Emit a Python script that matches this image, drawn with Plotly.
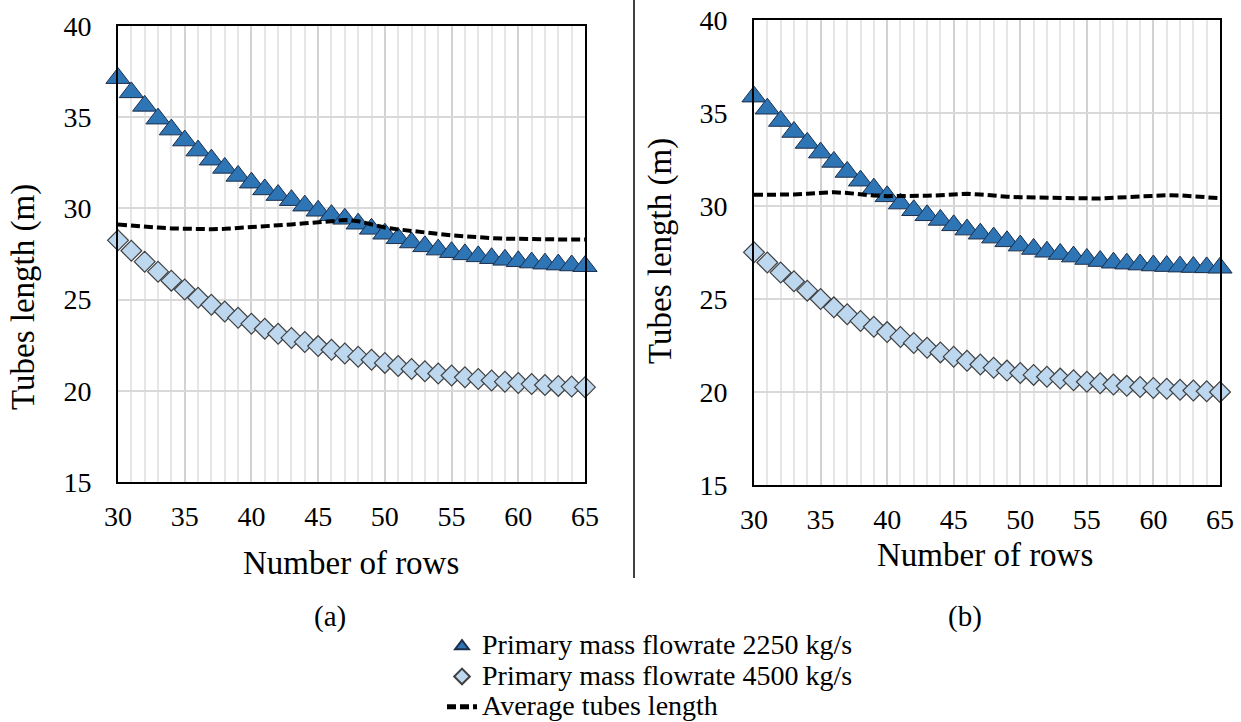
import plotly.graph_objects as go

# ---------------- data ----------------
rows = [30, 31, 32, 33, 34, 35, 36, 37, 38, 39, 40, 41, 42, 43, 44, 45, 46, 47,
        48, 49, 50, 51, 52, 53, 54, 55, 56, 57, 58, 59, 60, 61, 62, 63, 64, 65]

# panel (a)
a_flow_2250 = [37.14, 36.36, 35.62, 34.92, 34.32, 33.72, 33.17, 32.67, 32.22, 31.78,
               31.41, 31.04, 30.73, 30.45, 30.15, 29.87, 29.63, 29.43, 29.16, 28.88,
               28.61, 28.36, 28.13, 27.92, 27.74, 27.6, 27.48, 27.37, 27.27, 27.18,
               27.1, 27.03, 26.97, 26.92, 26.87, 26.83]
a_flow_4500 = [28.25, 27.68, 27.08, 26.53, 26.04, 25.55, 25.1, 24.72, 24.35, 24.0,
               23.68, 23.4, 23.13, 22.9, 22.68, 22.45, 22.25, 22.05, 21.87, 21.7,
               21.53, 21.36, 21.2, 21.07, 20.95, 20.84, 20.74, 20.65, 20.57, 20.5,
               20.43, 20.37, 20.32, 20.27, 20.23, 20.2]
a_average = [29.12, 29.05, 29.0, 28.95, 28.9, 28.87, 28.86, 28.86, 28.88, 28.92,
             28.96, 29.02, 29.08, 29.12, 29.18, 29.23, 29.3, 29.36, 29.3, 29.14,
             28.95, 28.85, 28.75, 28.67, 28.6, 28.52, 28.46, 28.4, 28.37, 28.34,
             28.32, 28.31, 28.3, 28.3, 28.3, 28.3]

# panel (b)
b_flow_2250 = [35.88, 35.23, 34.57, 33.98, 33.39, 32.87, 32.37, 31.83, 31.36, 30.93,
               30.52, 30.13, 29.77, 29.5, 29.25, 28.96, 28.73, 28.51, 28.3, 28.1,
               27.87, 27.69, 27.54, 27.42, 27.28, 27.15, 27.04, 26.95, 26.9, 26.85,
               26.8, 26.77, 26.74, 26.72, 26.7, 26.68]
b_flow_4500 = [27.51, 26.96, 26.42, 25.95, 25.45, 25.0, 24.55, 24.18, 23.82, 23.51,
               23.22, 22.96, 22.64, 22.38, 22.13, 21.9, 21.68, 21.48, 21.3, 21.15,
               21.02, 20.92, 20.82, 20.72, 20.63, 20.55, 20.47, 20.4, 20.33, 20.27,
               20.22, 20.17, 20.12, 20.08, 20.04, 20.0]
b_average = [30.6, 30.6, 30.6, 30.62, 30.66, 30.72, 30.74, 30.7, 30.62, 30.56,
             30.53, 30.52, 30.53, 30.55, 30.58, 30.62, 30.66, 30.62, 30.55, 30.5,
             30.47, 30.46, 30.45, 30.4, 30.38, 30.38, 30.4, 30.44, 30.48, 30.53,
             30.56, 30.58, 30.57, 30.52, 30.46, 30.42]

x_ticks = [30, 35, 40, 45, 50, 55, 60, 65]
y_ticks = [15, 20, 25, 30, 35, 40]

series_names = ["Primary mass flowrate 2250 kg/s",
                "Primary mass flowrate 4500 kg/s",
                "Average tubes length"]
x_title = "Number of rows"
y_title = "Tubes length (m)"
panel_labels = ["(a)", "(b)"]

# ---------------- styling ----------------
FONT = "Liberation Serif, Times New Roman, serif"
W, H = 1241, 722
TRI_FILL, TRI_LINE = "#2E75B6", "#1C2E4A"
DIA_FILL, DIA_LINE = "#BDD7EE", "#404040"

fig = go.Figure()

panels = [
    (a_flow_2250, a_flow_4500, a_average, "x", "y", True),
    (b_flow_2250, b_flow_4500, b_average, "x2", "y2", False),
]
for s1, s2, avg, xa, ya, show in panels:
    fig.add_trace(go.Scatter(
        x=rows, y=s1, xaxis=xa, yaxis=ya, mode="markers", cliponaxis=False,
        name='<span style="font-size:28px">' + series_names[0] + '</span>',
        showlegend=show, legendrank=1,
        marker=dict(symbol="triangle-up", size=21, color=TRI_FILL,
                    line=dict(color=TRI_LINE, width=1))))
    fig.add_trace(go.Scatter(
        x=rows, y=s2, xaxis=xa, yaxis=ya, mode="markers", cliponaxis=False,
        name='<span style="font-size:28px">' + series_names[1] + '</span>',
        showlegend=show, legendrank=2,
        marker=dict(symbol="diamond", size=16, color=DIA_FILL,
                    line=dict(color=DIA_LINE, width=1.2))))
    fig.add_trace(go.Scatter(
        x=rows, y=avg, xaxis=xa, yaxis=ya, mode="lines", cliponaxis=False,
        name='<span style="font-size:28px">' + series_names[2] + '</span>',
        showlegend=show, legendrank=3,
        line=dict(color="black", width=4, dash="9px,4px")))


def xaxis(domain, anchor):
    return dict(domain=domain, anchor=anchor, range=[30, 65], tickvals=x_ticks,
                showgrid=True, gridcolor="#D2D2D2", gridwidth=2,
                minor=dict(dtick=1, tick0=30, showgrid=True, gridcolor="#E6E6E6", gridwidth=1.5),
                showline=True, linecolor="black", linewidth=2, mirror=True,
                ticks="", zeroline=False, ticklabelstandoff=8, automargin=False,
                tickfont=dict(family=FONT, size=28, color="black"))


def yaxis(domain, anchor):
    return dict(domain=domain, anchor=anchor, range=[15, 40], tickvals=y_ticks,
                showgrid=True, gridcolor="#D9D9D9", gridwidth=2,
                showline=True, linecolor="black", linewidth=2, mirror=True,
                ticks="", zeroline=False, ticklabelstandoff=19, automargin=False,
                tickfont=dict(family=FONT, size=28, color="black"))


# pixel boxes of the two plot areas
L = dict(x0=118, x1=585, y0=26, y1=482)
R = dict(x0=754, x1=1220, y0=20, y1=485)


def dom(b):
    return [b["x0"] / W, b["x1"] / W], [1 - b["y1"] / H, 1 - b["y0"] / H]


lx, ly = dom(L)
rx, ry = dom(R)

ann = []
tfont = dict(family=FONT, size=33, color="black")
for (cx, cy, txt, ang) in [(24, 297, y_title, -90), (660, 251, y_title, -90),
                           (351, 563, x_title, 0), (985, 555, x_title, 0)]:
    ann.append(dict(x=cx / W, y=1 - cy / H, xref="paper", yref="paper", text=txt,
                    textangle=ang, showarrow=False, font=tfont,
                    xanchor="center", yanchor="middle"))
for (cx, cy, txt) in [(330, 616, panel_labels[0]), (965, 616, panel_labels[1])]:
    ann.append(dict(x=cx / W, y=1 - cy / H, xref="paper", yref="paper", text=txt,
                    showarrow=False, font=dict(family=FONT, size=29, color="black"),
                    xanchor="center", yanchor="middle"))

fig.update_layout(
    width=W, height=H, margin=dict(l=0, r=0, t=0, b=0, pad=0, autoexpand=False),
    paper_bgcolor="white", plot_bgcolor="white",
    font=dict(family=FONT, color="black"),
    xaxis=xaxis(lx, "y"), yaxis=yaxis(ly, "x"),
    xaxis2=xaxis(rx, "y2"), yaxis2=yaxis(ry, "x2"),
    annotations=ann,
    shapes=[dict(type="line", xref="paper", yref="paper",
                 x0=634 / W, x1=634 / W, y0=1 - 578 / H, y1=1,
                 line=dict(color="black", width=1.5))],
    showlegend=True,
    legend=dict(x=442 / W, y=1 - 626 / H, xanchor="left", yanchor="top",
                bgcolor="rgba(0,0,0,0)", borderwidth=0, itemsizing="constant",
                itemwidth=30, tracegroupgap=0,
                font=dict(family=FONT, size=21, color="black")),
)

fig.write_html("out.html")
